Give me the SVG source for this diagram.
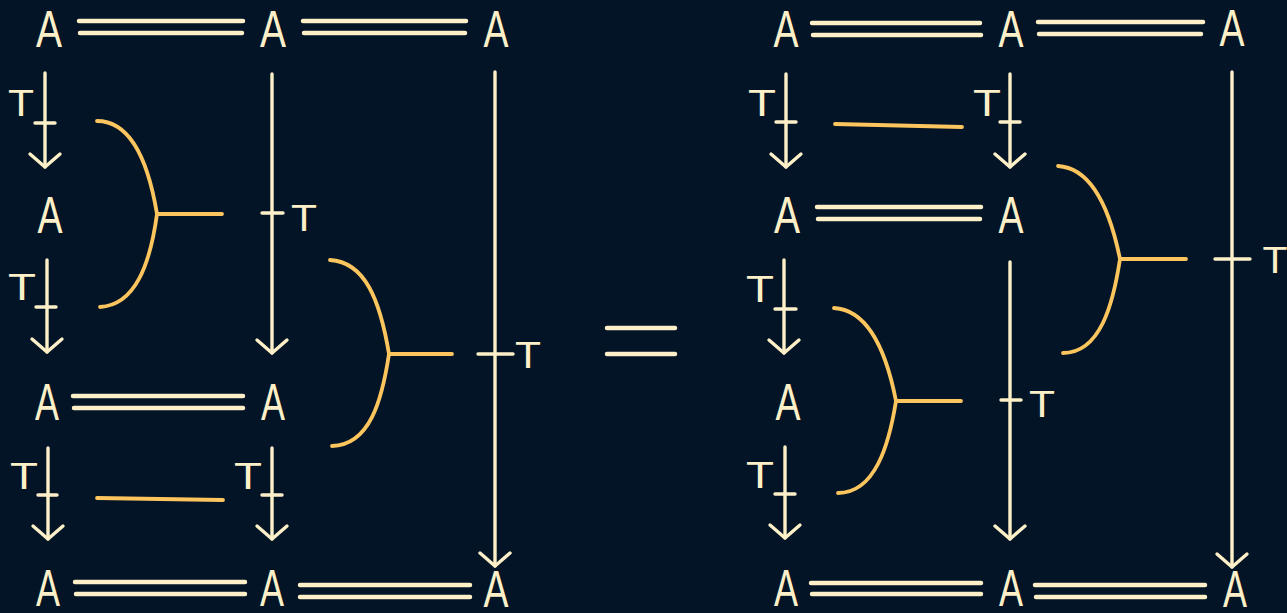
<svg xmlns="http://www.w3.org/2000/svg" width="1287" height="613" viewBox="0 0 1287 613">
<style>
.bg{fill:#021426}
.obj{font-family:"Liberation Sans",Arial,sans-serif;font-size:52px;fill:#fdf0c8;text-anchor:middle}
.lbl{font-family:"Liberation Sans",Arial,sans-serif;font-size:37px;fill:#fdf0c8;text-anchor:middle}
.ar{stroke:#fdf0c8;stroke-width:3.4;fill:none;stroke-linecap:round;marker-end:url(#head)}
.tk{stroke:#fdf0c8;stroke-width:3.4;fill:none;stroke-linecap:round}
.eq{stroke:#fdf0c8;stroke-width:4.5;fill:none;stroke-linecap:round}
.st{stroke:#fcc55e;stroke-width:3.8;fill:none;stroke-linecap:round;stroke-linejoin:round}
</style>
<defs>
<marker id="head" markerUnits="userSpaceOnUse" orient="auto" refX="0" refY="0" markerWidth="40" markerHeight="40" overflow="visible">
<path d="M-13,-15 L0,0 L-13,15" fill="none" stroke="#fdf0c8" stroke-width="3.4" stroke-linecap="round" stroke-linejoin="round"/>
</marker>
</defs>
<rect class="bg" x="0" y="0" width="1287" height="613"/>

<!-- Left diagram nodes -->
<g id="L-A00"><text class="obj" x="49" y="47" textLength="26" lengthAdjust="spacingAndGlyphs">A</text></g>
<g id="L-A01"><text class="obj" x="273" y="47" textLength="26" lengthAdjust="spacingAndGlyphs">A</text></g>
<g id="L-A02"><text class="obj" x="496" y="47" textLength="25" lengthAdjust="spacingAndGlyphs">A</text></g>
<g id="L-A10"><text class="obj" x="50" y="233" textLength="25" lengthAdjust="spacingAndGlyphs">A</text></g>
<g id="L-A20"><text class="obj" x="47" y="420" textLength="24" lengthAdjust="spacingAndGlyphs">A</text></g>
<g id="L-A21"><text class="obj" x="273" y="420" textLength="24" lengthAdjust="spacingAndGlyphs">A</text></g>
<g id="L-A30"><text class="obj" x="48" y="606" textLength="24" lengthAdjust="spacingAndGlyphs">A</text></g>
<g id="L-A31"><text class="obj" x="272" y="606" textLength="24" lengthAdjust="spacingAndGlyphs">A</text></g>
<g id="L-A32"><text class="obj" x="496" y="607" textLength="25" lengthAdjust="spacingAndGlyphs">A</text></g>

<!-- Right diagram nodes -->
<g id="R-A00"><text class="obj" x="786" y="47" textLength="25" lengthAdjust="spacingAndGlyphs">A</text></g>
<g id="R-A01"><text class="obj" x="1011" y="47" textLength="25" lengthAdjust="spacingAndGlyphs">A</text></g>
<g id="R-A02"><text class="obj" x="1232" y="46" textLength="25" lengthAdjust="spacingAndGlyphs">A</text></g>
<g id="R-A10"><text class="obj" x="787" y="233" textLength="26" lengthAdjust="spacingAndGlyphs">A</text></g>
<g id="R-A11"><text class="obj" x="1011" y="233" textLength="25" lengthAdjust="spacingAndGlyphs">A</text></g>
<g id="R-A20"><text class="obj" x="788" y="420" textLength="25" lengthAdjust="spacingAndGlyphs">A</text></g>
<g id="R-A30"><text class="obj" x="786" y="606" textLength="24" lengthAdjust="spacingAndGlyphs">A</text></g>
<g id="R-A31"><text class="obj" x="1011" y="606" textLength="24" lengthAdjust="spacingAndGlyphs">A</text></g>
<g id="R-A32"><text class="obj" x="1235" y="607" textLength="24" lengthAdjust="spacingAndGlyphs">A</text></g>

<g id="connectors">
<!-- Left: identities -->
<path class="eq" d="M79,21 L243,21 M80,33 L242,33"/>
<path class="eq" d="M303,21 L466,21 M304,33 L465,33"/>
<path class="eq" d="M73,396 L243,396 M74,408 L243,408"/>
<path class="eq" d="M75,582 L245,582 M76,594 L245,594"/>
<path class="eq" d="M300,585 L470,585 M300,597 L470,597"/>
<!-- Left: arrows -->
<path class="ar" d="M45,73 L45,167"/><path class="tk" d="M35,123 L55,123"/>
<text class="lbl" x="21" y="116" textLength="26" lengthAdjust="spacingAndGlyphs">T</text>
<path class="ar" d="M47,260 L47,352"/><path class="tk" d="M36,307 L56,307"/>
<text class="lbl" x="22" y="300" textLength="28" lengthAdjust="spacingAndGlyphs">T</text>
<path class="ar" d="M272,74 L272,353"/><path class="tk" d="M262,213 L283,213"/>
<text class="lbl" x="304" y="231" textLength="26" lengthAdjust="spacingAndGlyphs">T</text>
<path class="ar" d="M495,72 L495,566"/><path class="tk" d="M478,354 L513,354"/>
<text class="lbl" x="528" y="368" textLength="26" lengthAdjust="spacingAndGlyphs">T</text>
<path class="ar" d="M48,448 L48,539"/><path class="tk" d="M38,495 L57,495"/>
<text class="lbl" x="24" y="489" textLength="28" lengthAdjust="spacingAndGlyphs">T</text>
<path class="ar" d="M272,448 L272,539"/><path class="tk" d="M262,495 L282,495"/>
<text class="lbl" x="248" y="489" textLength="28" lengthAdjust="spacingAndGlyphs">T</text>

<!-- Equals -->
<path class="eq" d="M607,328 L675,328 M607,354 L675,354"/>

<!-- Right: identities -->
<path class="eq" d="M812,23 L980,23 M813,35 L981,35"/>
<path class="eq" d="M1038,22 L1203,22 M1039,34 L1201,34"/>
<path class="eq" d="M817,207 L981,207 M818,219 L980,219"/>
<path class="eq" d="M811,583 L981,583 M812,594 L981,594"/>
<path class="eq" d="M1035,585 L1205,585 M1036,597 L1205,597"/>
<!-- Right: arrows -->
<path class="ar" d="M786,74 L786,167"/><path class="tk" d="M776,122 L796,122"/>
<text class="lbl" x="762" y="116" textLength="28" lengthAdjust="spacingAndGlyphs">T</text>
<path class="ar" d="M1010,74 L1010,167"/><path class="tk" d="M1000,122 L1020,122"/>
<text class="lbl" x="987" y="116" textLength="28" lengthAdjust="spacingAndGlyphs">T</text>
<path class="ar" d="M784,260 L784,353"/><path class="tk" d="M775,309 L796,309"/>
<text class="lbl" x="760" y="302" textLength="28" lengthAdjust="spacingAndGlyphs">T</text>
<path class="ar" d="M785,447 L785,538"/><path class="tk" d="M775,494 L795,494"/>
<text class="lbl" x="760" y="488" textLength="28" lengthAdjust="spacingAndGlyphs">T</text>
<path class="ar" d="M1010,262 L1010,539"/><path class="tk" d="M1001,400 L1021,400"/>
<text class="lbl" x="1042" y="417" textLength="26" lengthAdjust="spacingAndGlyphs">T</text>
<path class="ar" d="M1232,72 L1232,567"/><path class="tk" d="M1215,259 L1250,259"/>
<text class="lbl" x="1275" y="273" textLength="25" lengthAdjust="spacingAndGlyphs">T</text>
</g>

<g id="strings">
<path class="st" d="M97,121 C130,121 148,160 157,214 C150,265 135,305 100,307 M157,214 L222,214"/>
<path class="st" d="M330,260 C365,262 380,300 389,354 C382,400 370,445 332,446 M389,354 L452,354"/>
<path class="st" d="M97,498 L223,500"/>
<path class="st" d="M835,124 L962,127"/>
<path class="st" d="M1058,166 C1092,168 1110,210 1120,259 C1113,305 1100,353 1063,353 M1120,259 L1186,259"/>
<path class="st" d="M834,308 C868,310 886,350 896,401 C889,445 875,493 838,493 M896,401 L961,401"/>
</g>
</svg>
